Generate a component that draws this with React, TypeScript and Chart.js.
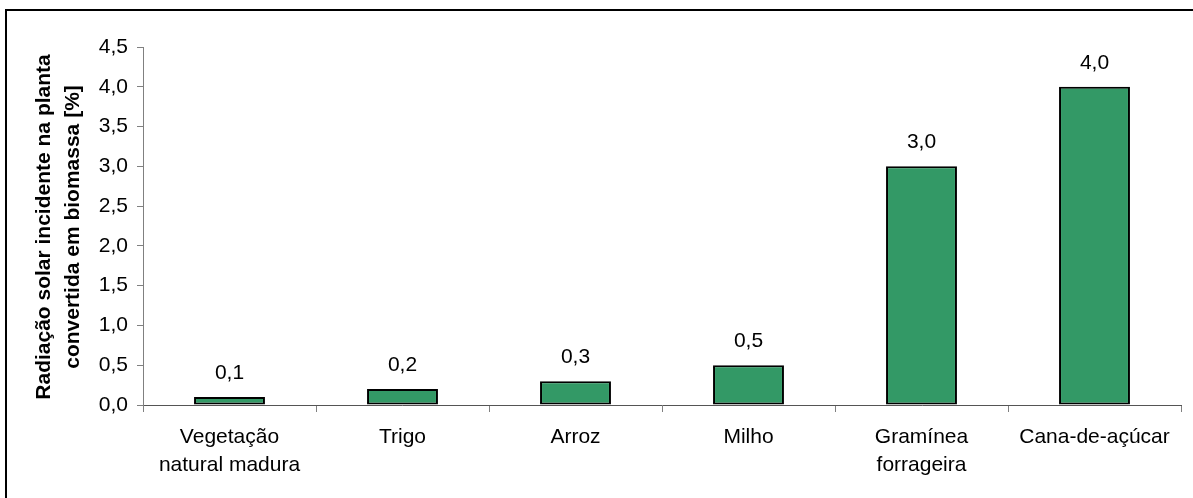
import React, { useEffect, useRef } from "react";
import { Chart, registerables } from "chart.js";

Chart.register(...registerables);

const categories: (string | string[])[] = [
  ["Vegetação", "natural madura"],
  "Trigo",
  "Arroz",
  "Milho",
  ["Gramínea", "forrageira"],
  "Cana-de-açúcar",
];
const values: number[] = [0.1, 0.2, 0.3, 0.5, 3.0, 4.0];
const yTitleLines: string[] = ["Radiação solar incidente na planta", "convertida em biomassa [%]"];

const fmt = (v: number) => v.toFixed(1).replace(".", ",");
const FONT = "'Liberation Sans', Arial, sans-serif";

export default function App() {
  const ref = useRef<HTMLCanvasElement | null>(null);
  useEffect(() => {
    if (!ref.current) return;
    const labelsPlugin = {
      id: "valueLabels",
      afterDatasetsDraw(chart: any) {
        const ctx = chart.ctx;
        const meta = chart.getDatasetMeta(0);
        ctx.save();
        ctx.font = `21px ${FONT}`;
        ctx.fillStyle = "#000";
        ctx.textAlign = "center";
        ctx.textBaseline = "middle";
        meta.data.forEach((bar: any, i: number) => {
          ctx.fillText(fmt(values[i]), bar.x, bar.y - 24);
        });
        ctx.restore();
      },
    };
    const titlePlugin = {
      id: "yTitle",
      afterDraw(chart: any) {
        const ctx = chart.ctx;
        const ca = chart.chartArea;
        const cy = (ca.top + ca.bottom) / 2 + 1;
        ctx.save();
        ctx.font = `bold 21px ${FONT}`;
        ctx.fillStyle = "#000";
        ctx.textAlign = "center";
        ctx.textBaseline = "middle";
        const xs = [44, 73];
        yTitleLines.forEach((t, i) => {
          ctx.save();
          ctx.translate(xs[i], cy);
          ctx.rotate(-Math.PI / 2);
          ctx.fillText(t, 0, 0);
          ctx.restore();
        });
        // frame
        ctx.strokeStyle = "#000";
        ctx.lineWidth = 2;
        ctx.beginPath();
        ctx.moveTo(6, 600);
        ctx.lineTo(6, 10);
        ctx.lineTo(1300, 10);
        ctx.stroke();
        ctx.restore();
      },
    };
    const chart = new Chart(ref.current, {
      type: "bar",
      data: {
        labels: categories,
        datasets: [
          {
            data: values,
            backgroundColor: "#339966",
            borderColor: "#000",
            borderWidth: 2,
            borderSkipped: false,
            categoryPercentage: 1,
            barPercentage: 0.41,
          },
        ],
      },
      options: {
        responsive: false,
        animation: false,
        layout: { padding: { top: 47, right: 12, bottom: 0, left: 0 } },
        plugins: { legend: { display: false }, tooltip: { enabled: false } },
        scales: {
          x: {
            offset: true,
            grid: {
              offset: true,
              drawOnChartArea: false,
              drawTicks: true,
              tickLength: 7,
              color: "#808080",
            },
            border: { display: true, color: "#555555", width: 1 },
            ticks: {
              color: "#000",
              font: { family: FONT, size: 21, lineHeight: 1.35 },
              padding: 11,
              maxRotation: 0,
              autoSkip: false,
            },
            afterFit(scale: any) {
              scale.height = 93;
            },
          },
          y: {
            min: 0,
            max: 4.5,
            grid: {
              drawOnChartArea: false,
              drawTicks: true,
              tickLength: 6,
              color: "#808080",
            },
            border: { display: true, color: "#808080", width: 1 },
            ticks: {
              stepSize: 0.5,
              color: "#000",
              font: { family: FONT, size: 21 },
              padding: 9,
              callback: (v: any) => fmt(Number(v)),
            },
            afterFit(scale: any) {
              scale.width = 143;
            },
          },
        },
      },
      plugins: [labelsPlugin, titlePlugin],
    });
    return () => chart.destroy();
  }, []);
  return (
    <div style={{ position: "fixed", left: 0, top: 0, width: 1193, height: 498, background: "#fff" }}>
      <canvas ref={ref} width={1193} height={498} style={{ display: "block" }} />
    </div>
  );
}
